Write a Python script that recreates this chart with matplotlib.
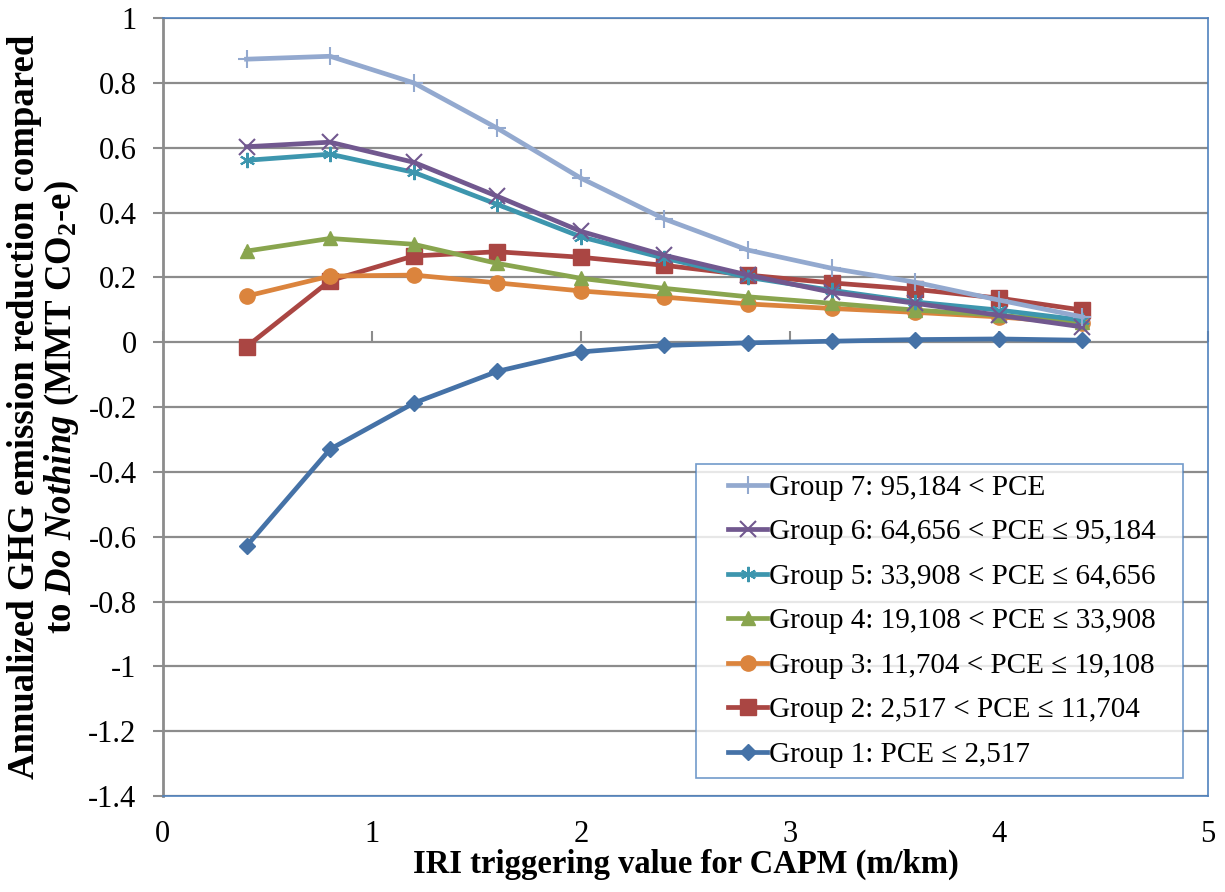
import matplotlib
matplotlib.use("Agg")
import matplotlib.pyplot as plt
from matplotlib.lines import Line2D
from matplotlib.legend_handler import HandlerLine2D

plt.rcParams['font.family'] = ['Liberation Serif', 'DejaVu Serif']
plt.rcParams['mathtext.fontset'] = 'custom'
plt.rcParams['mathtext.rm'] = 'Liberation Serif:bold'
plt.rcParams['mathtext.it'] = 'Liberation Serif:bold:italic'
plt.rcParams['mathtext.bf'] = 'Liberation Serif:bold'

x = [0.4, 0.8, 1.2, 1.6, 2.0, 2.4, 2.8, 3.2, 3.6, 4.0, 4.4]

g1 = [-0.629, -0.330, -0.188, -0.090, -0.030, -0.010, -0.002, 0.003, 0.008, 0.010, 0.006]
g2 = [-0.014, 0.190, 0.266, 0.279, 0.262, 0.237, 0.207, 0.183, 0.163, 0.136, 0.099]
g3 = [0.142, 0.204, 0.207, 0.183, 0.158, 0.139, 0.118, 0.104, 0.092, 0.078, 0.058]
g4 = [0.281, 0.320, 0.302, 0.243, 0.197, 0.166, 0.140, 0.120, 0.099, 0.083, 0.062]
g5 = [0.561, 0.580, 0.524, 0.425, 0.325, 0.259, 0.200, 0.160, 0.124, 0.099, 0.068]
g6 = [0.603, 0.617, 0.555, 0.450, 0.342, 0.268, 0.207, 0.154, 0.120, 0.083, 0.047]
g7 = [0.873, 0.882, 0.800, 0.660, 0.506, 0.380, 0.284, 0.228, 0.185, 0.130, 0.078]

labels = [
    "Group 1: PCE \u2264 2,517",
    "Group 2: 2,517 < PCE \u2264 11,704",
    "Group 3: 11,704 < PCE \u2264 19,108",
    "Group 4: 19,108 < PCE \u2264 33,908",
    "Group 5: 33,908 < PCE \u2264 64,656",
    "Group 6: 64,656 < PCE \u2264 95,184",
    "Group 7: 95,184 < PCE",
]
series = [g1, g2, g3, g4, g5, g6, g7]
colors = ['#4572A7', '#AA4643', '#DB843D', '#89A54E', '#3D96AE', '#71588F', '#93A9CF']
markers = ['D', 's', 'o', '^', (6, 2, 0), 'x', '+']
msizes = [8, 11, 11, 10, 11, 11, 13]

xticks = [0, 1, 2, 3, 4, 5]
yticks = [-1.4, -1.2, -1.0, -0.8, -0.6, -0.4, -0.2, 0, 0.2, 0.4, 0.6, 0.8, 1.0]
ytick_labels = ['-1.4', '-1.2', '-1', '-0.8', '-0.6', '-0.4', '-0.2', '0', '0.2', '0.4', '0.6', '0.8', '1']

fig = plt.figure(figsize=(12.25, 8.92), dpi=100)
ax = fig.add_axes([0.133, 0.1076, 0.853, 0.8722])

handles = []
for ys, c, m, ms, lab in zip(series, colors, markers, msizes, labels):
    filled = m in ('D', 's', 'o', '^')
    h, = ax.plot(x, ys, color=c, lw=3.4, marker=m, markersize=ms,
                 markerfacecolor=c, markeredgecolor=c,
                 markeredgewidth=1.0 if filled else 1.5, label=lab, zorder=3)
    handles.append(h)

ax.set_xlim(0, 5)
ax.set_ylim(-1.4, 1.0)
ax.set_xticks(xticks)
ax.set_xticklabels([str(v) for v in xticks])
ax.set_yticks(yticks)
ax.set_yticklabels(ytick_labels)
ax.yaxis.grid(True, color='#8c8c8c', lw=1.6)
ax.set_axisbelow(True)

ax.tick_params(axis='x', length=0, pad=17, labelsize=22)
ax.tick_params(axis='y', direction='out', length=7, width=1.5, color='#8c8c8c', labelsize=22, pad=12)

for s in ['top', 'right', 'bottom']:
    ax.spines[s].set_color('#4F81BD')
    ax.spines[s].set_linewidth(1.2)
ax.spines['left'].set_color('#8c8c8c')
ax.spines['left'].set_linewidth(2)

# x-axis line crossing at y = 0
sec = ax.secondary_xaxis((0 - (-1.4)) / 2.4)
sec.set_xticks(xticks)
sec.tick_params(axis='x', direction='out', length=8, width=1.5, color='#8c8c8c', labelbottom=False, labeltop=False)
sec.spines['bottom'].set_color('#8c8c8c')
sec.spines['bottom'].set_linewidth(2)
sec.spines['top'].set_visible(False)

ax.set_xlabel("IRI triggering value for CAPM (m/km)", fontsize=23.5, fontweight='bold', labelpad=0)
ax.set_ylabel("Annualized GHG emission reduction compared\n"
              r"to $\mathit{Do\ Nothing}$ (MMT CO$_2$-e)",
              fontsize=26.5, fontweight='bold', labelpad=5, linespacing=1.05)

leg = ax.legend(handles[::-1], labels[::-1], loc='lower left',
                bbox_to_anchor=(0.510, 0.023, 0.466, 0.3), mode='expand',
                fontsize=21, frameon=True, fancybox=False, handlelength=2.1,
                handletextpad=0.05, labelspacing=0.62, borderpad=0.35, borderaxespad=0,
                handler_map={Line2D: HandlerLine2D(xpad=0.75)})
leg.get_frame().set_edgecolor('#4F81BD')
leg.get_frame().set_linewidth(1.2)

fig.savefig("out.png", dpi=100)
